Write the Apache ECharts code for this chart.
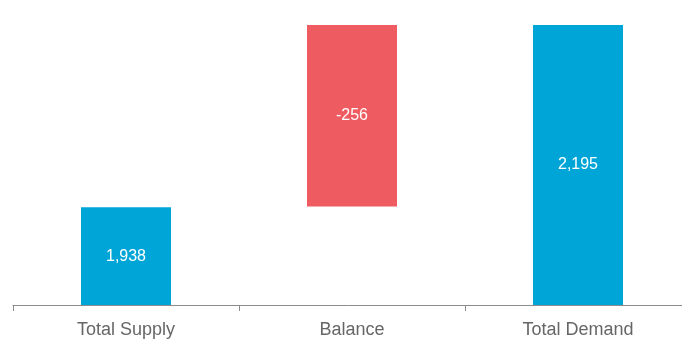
<!DOCTYPE html>
<html>
<head>
<meta charset="utf-8">
<script src="https://cdn.jsdelivr.net/npm/echarts@6/dist/echarts.min.js"></script>
<style>
  html, body { margin: 0; padding: 0; background: #fff; }
  #chart { width: 682px; height: 345px; }
</style>
</head>
<body>
<div id="chart"></div>
<script>
// Supply / demand bridge
const categories = ['Total Supply', 'Balance', 'Total Demand'];
const totalSupply = 1938;
const balance = -256;
const totalDemand = 2195;

const fmt = v => v.toLocaleString('en-US');

// invisible base under the balance step, then the visible pieces
const baseData = ['-', totalDemand + balance, '-'];
const totalData = [totalSupply, '-', totalDemand];
const balanceData = ['-', -balance, '-'];

const font = 'Liberation Sans, Arial, sans-serif';

const chart = echarts.init(document.getElementById('chart'));
chart.setOption({
  animation: false,
  // the axis runs on past the right edge of the canvas
  grid: { left: 13, width: 678, top: 21.5, height: 283.5, outerBoundsMode: 'none', containLabel: false },
  xAxis: {
    type: 'category',
    data: categories,
    axisLine: { lineStyle: { color: '#8c8c8c', width: 1 } },
    axisTick: { show: true, length: 6, lineStyle: { color: '#8c8c8c' } },
    axisLabel: {
      color: '#666666',
      fontSize: 18,
      fontFamily: font,
      margin: 16
    }
  },
  yAxis: {
    type: 'value',
    min: 1800,
    max: 2200,
    show: false,
    splitLine: { show: false }
  },
  series: [
    {
      type: 'bar',
      stack: 'bridge',
      data: baseData,
      barWidth: 90,
      itemStyle: { color: 'transparent' },
      silent: true
    },
    {
      type: 'bar',
      stack: 'bridge',
      data: balanceData,
      barWidth: 90,
      itemStyle: { color: '#ee5b61' },
      label: {
        show: true,
        position: 'inside',
        color: '#fff',
        fontSize: 16,
        fontFamily: font,
        formatter: () => fmt(balance)
      }
    },
    {
      type: 'bar',
      stack: 'bridge',
      data: totalData,
      barWidth: 90,
      itemStyle: { color: '#00a5d7' },
      label: {
        show: true,
        position: 'inside',
        color: '#fff',
        fontSize: 16,
        fontFamily: font,
        formatter: p => fmt(p.value)
      }
    }
  ]
});
</script>
</body>
</html>
